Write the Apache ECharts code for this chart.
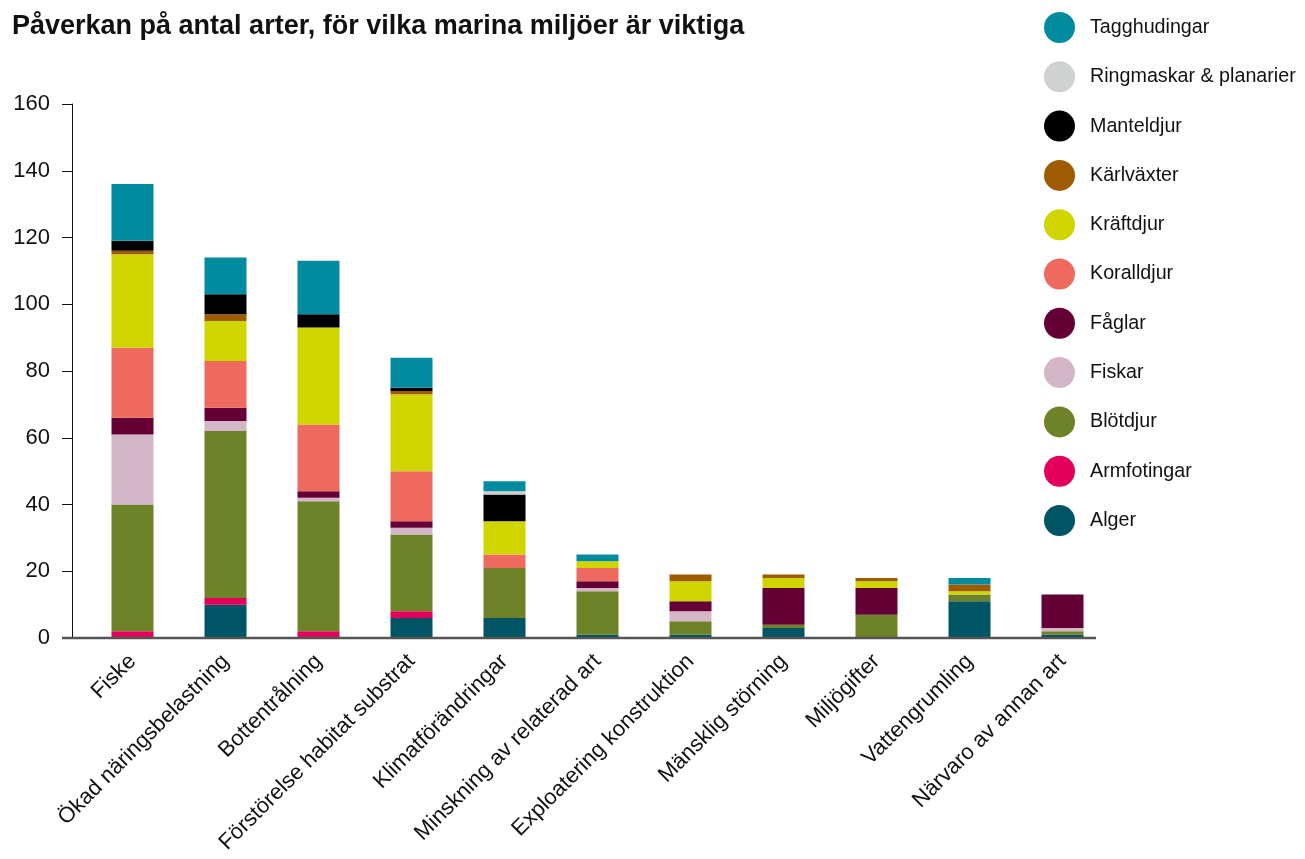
<!DOCTYPE html>
<html>
<head>
<meta charset="utf-8">
<script src="https://cdn.jsdelivr.net/npm/echarts@6/dist/echarts.min.js"></script>
<style>
  html, body { margin: 0; padding: 0; background: #ffffff; }
  #chart { width: 1305px; height: 859px; }
</style>
</head>
<body>
<div id="chart"></div>
<script>
// Pressures (categories along the x axis)
const categories = [
  'Fiske', 'Ökad näringsbelastning', 'Bottentrålning', 'Förstörelse habitat substrat',
  'Klimatförändringar', 'Minskning av relaterad art', 'Exploatering konstruktion',
  'Mänsklig störning', 'Miljögifter', 'Vattengrumling', 'Närvaro av annan art'
];

// Number of species per group, stacked from the bottom up
const alger        = [0, 10, 0, 6, 6, 1, 1, 3, 0, 11, 1];
const armfotingar  = [2, 2, 2, 2, 0, 0, 0, 0, 0, 0, 0];
const blotdjur     = [38, 50, 39, 23, 15, 13, 4, 1, 7, 2, 1];
const fiskar       = [21, 3, 1, 2, 0, 1, 3, 0, 0, 0, 1];
const faglar       = [5, 4, 2, 2, 0, 2, 3, 11, 8, 0, 10];
const koralldjur   = [21, 14, 20, 15, 4, 4, 0, 0, 0, 0, 0];
const kraftdjur    = [28, 12, 29, 23, 10, 2, 6, 3, 2, 1, 0];
const karlvaxter   = [1, 2, 0, 1, 0, 0, 2, 1, 1, 2, 0];
const manteldjur   = [3, 6, 4, 1, 8, 0, 0, 0, 0, 0, 0];
const ringmaskar   = [0, 0, 0, 0, 1, 0, 0, 0, 0, 0, 0];
const tagghudingar = [17, 11, 16, 9, 3, 2, 0, 0, 0, 2, 0];

const yTicks = [0, 20, 40, 60, 80, 100, 120, 140, 160];

const groups = [
  { name: 'Alger',                 data: alger,        color: '#005564' },
  { name: 'Armfotingar',           data: armfotingar,  color: '#E4005A' },
  { name: 'Blötdjur',              data: blotdjur,     color: '#6E8228' },
  { name: 'Fiskar',                data: fiskar,       color: '#D3B7C6' },
  { name: 'Fåglar',                data: faglar,       color: '#640036' },
  { name: 'Koralldjur',            data: koralldjur,   color: '#EE6A5F' },
  { name: 'Kräftdjur',             data: kraftdjur,    color: '#D0D500' },
  { name: 'Kärlväxter',            data: karlvaxter,   color: '#9E5B00' },
  { name: 'Manteldjur',            data: manteldjur,   color: '#000000' },
  { name: 'Ringmaskar & planarier', data: ringmaskar,  color: '#D0D2D1' },
  { name: 'Tagghudingar',          data: tagghudingar, color: '#008C9E' }
];

const FONT = '"Liberation Sans", Arial, Helvetica, sans-serif';
const chart = echarts.init(document.getElementById('chart'), null, { renderer: 'canvas' });

const GRID = { left: 86, right: 196, top: 104, bottom: 221 };

chart.setOption({
  backgroundColor: '#ffffff',
  animation: false,
  textStyle: { fontFamily: FONT },
  title: {
    text: 'Påverkan på antal arter, för vilka marina miljöer är viktiga',
    left: 7, top: 8,
    textStyle: { fontFamily: FONT, fontSize: 27, fontWeight: 'bold', color: '#111111' }
  },
  legend: {
    orient: 'vertical',
    left: 1044, top: 12,
    padding: 0,
    itemWidth: 31, itemHeight: 31,
    itemGap: 18.3,
    icon: 'circle',
    selectedMode: false,
    data: groups.map(g => g.name).reverse(),
    textStyle: { fontFamily: FONT, fontSize: 19.7, color: '#111111', padding: [0, 0, 0, 10] }
  },
  grid: GRID,
  xAxis: {
    type: 'category',
    data: categories,
    axisLine: { show: false },
    axisTick: { show: false },
    axisLabel: {
      rotate: 45,
      interval: 0,
      margin: 20,
      fontFamily: FONT, fontSize: 22, color: '#111111'
    }
  },
  yAxis: {
    type: 'value',
    min: yTicks[0], max: yTicks[yTicks.length - 1], interval: 20,
    offset: 14,
    axisLine: { show: true, lineStyle: { color: '#111111', width: 1 } },
    axisTick: { show: true, length: 10, lineStyle: { color: '#111111', width: 1 } },
    splitLine: { show: false },
    axisLabel: { margin: 22, fontFamily: FONT, fontSize: 22, color: '#111111' }
  },
  series: groups.map(g => ({
    name: g.name,
    type: 'bar',
    stack: 'arter',
    barWidth: 42,
    data: g.data,
    itemStyle: { color: g.color },
    emphasis: { disabled: true }
  }))
});

// Baseline along the zero value, running from the y-axis ticks to past the last bar
const zeroY = chart.convertToPixel({ yAxisIndex: 0 }, 0);
chart.setOption({
  graphic: [{
    type: 'line',
    z: 100,
    shape: { x1: 62, y1: zeroY, x2: 1096, y2: zeroY },
    style: { stroke: '#555555', lineWidth: 2.5 }
  }]
});
</script>
</body>
</html>
